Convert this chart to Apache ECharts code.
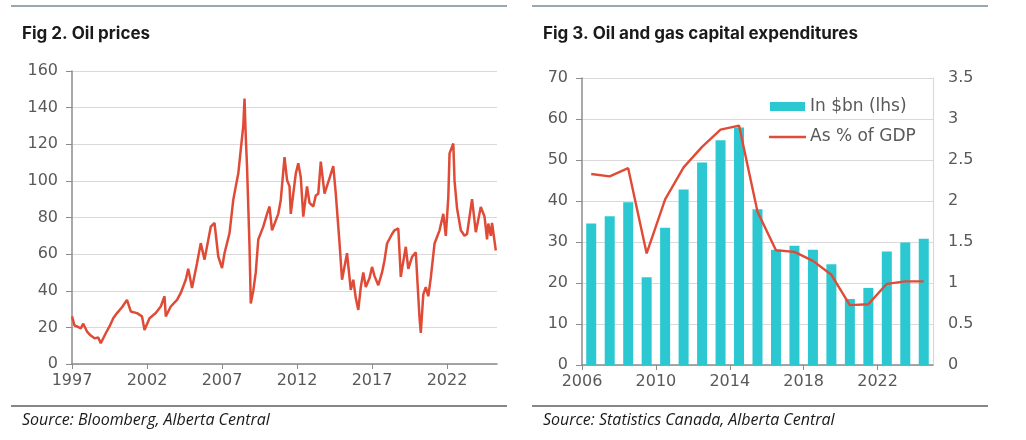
<!DOCTYPE html>
<html>
<head>
<meta charset="utf-8">
<script src="https://cdn.jsdelivr.net/npm/echarts@6/dist/echarts.min.js"></script>
<style>
  html, body { margin: 0; padding: 0; background: #fff; }
  #chart { width: 1026px; height: 440px; }
</style>
</head>
<body>
<div id="chart"></div>
<script>
// Fig 2: oil price (month, US$/bbl)
const oilDates = [
  '1997-01','1997-03','1997-05','1997-08','1997-10','1998-01','1998-04','1998-07','1998-10','1998-12',
  '1999-04','1999-07','1999-10','2000-01','2000-05','2000-09','2000-12','2001-05','2001-09','2001-11',
  '2002-03','2002-08','2002-12','2003-03','2003-04','2003-08','2004-01','2004-04','2004-08','2004-10',
  '2005-01','2005-05','2005-08','2005-11','2006-04','2006-07','2006-10','2007-01','2007-03','2007-07',
  '2007-10','2007-12','2008-02','2008-04','2008-06','2008-07','2008-08','2008-09','2008-11','2008-12',
  '2009-02','2009-04','2009-06','2009-10','2010-01','2010-03','2010-05','2010-10','2010-12','2011-03',
  '2011-05','2011-07','2011-08','2011-12','2012-02','2012-04','2012-06','2012-09','2012-11','2013-02',
  '2013-04','2013-06','2013-08','2013-11','2014-03','2014-06','2014-08','2014-11','2015-01','2015-05',
  '2015-08','2015-10','2015-12','2016-02','2016-04','2016-06','2016-08','2016-11','2017-01','2017-03',
  '2017-06','2017-09','2017-11','2018-01','2018-05','2018-07','2018-10','2018-12','2019-01','2019-04',
  '2019-06','2019-09','2019-12','2020-01','2020-03','2020-04','2020-06','2020-08','2020-10','2020-12',
  '2021-03','2021-07','2021-10','2021-12','2022-02','2022-03','2022-06','2022-07','2022-09','2022-12',
  '2023-03','2023-05','2023-09','2023-12','2024-04','2024-07','2024-09','2024-10','2024-12','2025-01',
  '2025-03','2025-04'
];
const oilPrices = [
  26, 21, 20.5, 19.5, 22, 17.7, 15.5, 14, 14.5, 11.3,
  16.8, 20.5, 25, 27.8, 31, 35, 28.7, 27.8, 26, 18.6,
  25, 27.8, 31.4, 37, 26, 31.4, 35, 38.8, 46, 52,
  41.5, 55, 66, 57, 75, 77, 58.7, 52.4, 60.5, 71.5,
  89.6, 97, 104, 117, 130, 145, 124, 108, 64, 33,
  40, 50, 68, 75, 82, 86, 73, 82, 89.6, 113,
  100.5, 97, 82, 104, 109.6, 102, 80.5, 97, 88, 86,
  92, 93, 110.5, 93, 101.5, 108, 93, 66, 46, 60.5,
  40.5, 46, 36, 29.5, 42, 50, 42, 47, 53, 48,
  43, 50, 56.7, 65.8, 71, 73, 74, 47.6, 52, 64,
  52, 58.5, 61, 62, 25, 17, 38, 42, 37, 47,
  65.8, 73, 82, 70, 91, 115, 120.4, 100, 85, 73,
  70, 71, 90, 72, 85.8, 80.4, 68, 76.7, 70, 77,
  67, 62
];

// Fig 3: oil and gas capex
const capexYears = [2006, 2007, 2008, 2009, 2010, 2011, 2012, 2013, 2014, 2015,
                    2016, 2017, 2018, 2019, 2020, 2021, 2022, 2023, 2024];
const capexBn = [34.5, 36.3, 39.7, 21.4, 33.5, 42.8, 49.4, 54.8, 57.9, 38.0,
                 28.1, 29.1, 28.1, 24.6, 16.1, 18.8, 27.7, 29.9, 30.8];
const capexPctGdp = [2.33, 2.30, 2.40, 1.36, 2.02, 2.41, 2.66, 2.87, 2.92, 1.87,
                     1.40, 1.38, 1.27, 1.10, 0.73, 0.74, 0.99, 1.02, 1.02];

const RED = '#E04B37';
const TEAL = '#2CC8D1';
const LABEL = '#595959';
const GRIDC = '#d9d9d9';
const AXISC = '#8c8c8c';
const numFont = 'DejaVu Sans';

function toYear(s) {
    const p = s.split('-');
    return parseInt(p[0]) + (parseInt(p[1]) - 1) / 12;
}
const oilData = oilDates.map((d, i) => [toYear(d), oilPrices[i]]);
// bars sit in the middle of each year
const barData = capexYears.map((y, i) => [y + 0.5, capexBn[i]]);
const pctData = capexYears.map((y, i) => [y + 0.5, capexPctGdp[i]]);

const chart = echarts.init(document.getElementById('chart'), null, { renderer: 'canvas' });

const axisLabel = { color: LABEL, fontSize: 16, fontFamily: numFont };
const yearFmt = v => String(Math.round(v));

const option = {
    backgroundColor: '#fff',
    animation: false,
    grid: [
        { left: 72, right: 529, top: 71, bottom: 76 },
        { left: 582, right: 93, top: 78, bottom: 75 }
    ],
    xAxis: [
        {
            type: 'value', gridIndex: 0, min: 1997, max: 2025.33, interval: 5,
            splitLine: { show: false },
            axisLine: { show: true, lineStyle: { color: AXISC, width: 1.5 } },
            axisTick: { show: true, length: 5, lineStyle: { color: AXISC } },
            axisLabel: Object.assign({ margin: 9, showMaxLabel: false, formatter: yearFmt }, axisLabel)
        },
        {
            type: 'value', gridIndex: 1, min: 2006, max: 2025, interval: 4,
            splitLine: { show: false },
            axisLine: { show: true, onZero: false, lineStyle: { color: AXISC, width: 1.5 } },
            axisTick: { show: true, length: 5, lineStyle: { color: AXISC } },
            axisLabel: Object.assign({ margin: 9, showMaxLabel: false, formatter: yearFmt }, axisLabel)
        }
    ],
    yAxis: [
        {
            type: 'value', gridIndex: 0, min: 0, max: 160, interval: 20,
            splitLine: { lineStyle: { color: GRIDC, width: 1.2 } },
            axisLine: { show: true, lineStyle: { color: AXISC, width: 1.5 } },
            axisTick: { show: true, length: 6, lineStyle: { color: AXISC } },
            axisLabel: Object.assign({ margin: 14 }, axisLabel)
        },
        {
            type: 'value', gridIndex: 1, min: 0, max: 70, interval: 10,
            splitLine: { lineStyle: { color: GRIDC, width: 1.2 } },
            axisLine: { show: true, lineStyle: { color: AXISC, width: 1.5 } },
            axisTick: { show: true, length: 6, lineStyle: { color: AXISC } },
            axisLabel: Object.assign({ margin: 14 }, axisLabel)
        },
        {
            type: 'value', gridIndex: 1, position: 'right', min: 0, max: 3.5, interval: 0.5,
            splitLine: { show: false },
            axisLine: { show: true, lineStyle: { color: GRIDC, width: 1.2 } },
            axisTick: { show: false },
            axisLabel: Object.assign({ margin: 15 }, axisLabel)
        }
    ],
    series: [
        {
            name: 'Oil price', type: 'line', xAxisIndex: 0, yAxisIndex: 0,
            data: oilData, symbol: 'none',
            lineStyle: { color: RED, width: 2.5 }
        },
        {
            name: 'In $bn (lhs)', type: 'bar', xAxisIndex: 1, yAxisIndex: 1,
            data: barData, barWidth: 10,
            itemStyle: { color: TEAL }
        },
        {
            name: 'As % of GDP', type: 'line', xAxisIndex: 1, yAxisIndex: 2,
            data: pctData, symbol: 'none',
            lineStyle: { color: RED, width: 2.4 }
        }
    ],
    graphic: [
        { type: 'line', shape: { x1: 11, y1: 6, x2: 507, y2: 6 }, style: { stroke: '#2f5467', lineWidth: 1.2 } },
        { type: 'line', shape: { x1: 532, y1: 6, x2: 988, y2: 6 }, style: { stroke: '#2f5467', lineWidth: 1.2 } },
        { type: 'line', shape: { x1: 11, y1: 406, x2: 507, y2: 406 }, style: { stroke: '#111', lineWidth: 1.2 } },
        { type: 'line', shape: { x1: 532, y1: 406, x2: 988, y2: 406 }, style: { stroke: '#111', lineWidth: 1.2 } },
        { type: 'text', left: 22, top: 25, style: { text: 'Fig 2. Oil prices', fill: '#1a1a1a', font: 'bold 17px Inter' } },
        { type: 'text', left: 543, top: 25, style: { text: 'Fig 3. Oil and gas capital expenditures', fill: '#1a1a1a', font: 'bold 17px Inter' } },
        { type: 'text', left: 22, top: 412, style: { text: 'Source: Bloomberg, Alberta Central', fill: '#1a1a1a', font: 'italic 16px "Open Sans"' } },
        { type: 'text', left: 543, top: 412, style: { text: 'Source: Statistics Canada, Alberta Central', fill: '#1a1a1a', font: 'italic 16px "Open Sans"' } },
        // legend for fig 3
        { type: 'rect', shape: { x: 770, y: 102, width: 35, height: 9 }, style: { fill: TEAL } },
        { type: 'line', shape: { x1: 769, y1: 137, x2: 806, y2: 137 }, style: { stroke: RED, lineWidth: 2.5 } },
        { type: 'text', x: 810, y: 107, style: { text: 'In $bn (lhs)', fill: LABEL, font: '17px "DejaVu Sans"', textVerticalAlign: 'middle' } },
        { type: 'text', x: 810, y: 137, style: { text: 'As % of GDP', fill: LABEL, font: '17px "DejaVu Sans"', textVerticalAlign: 'middle' } }
    ]
};

chart.setOption(option);
</script>
</body>
</html>
